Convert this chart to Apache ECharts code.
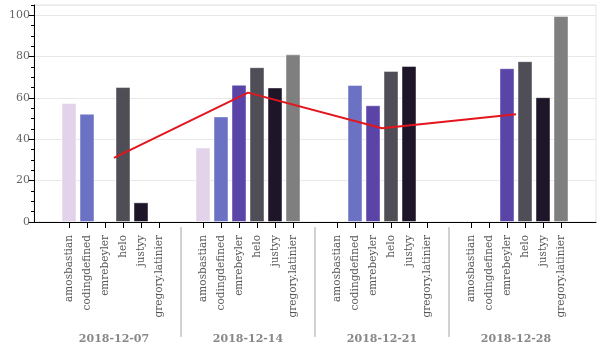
<!DOCTYPE html>
<html>
<head>
<meta charset="utf-8">
<script src="https://cdn.jsdelivr.net/npm/echarts@6/dist/echarts.min.js"></script>
<style>
  body { margin: 0; background: #fff; }
  #main { width: 600px; height: 350px; }
</style>
</head>
<body>
<div id="main"></div>
<script>
  // 周次
  var dates = ['2018-12-07', '2018-12-14', '2018-12-21', '2018-12-28'];
  var persons = ['amosbastian', 'codingdefined', 'emrebeyler', 'helo', 'justyy', 'gregory.latinier'];
  // 每人每周的分数 (没有的记 0)
  var amosbastian    = [57.5, 36, 0, 0];
  var codingdefined  = [52.3, 51, 66.2, 0];
  var emrebeyler     = [0, 66.3, 56.4, 74.3];
  var helo           = [65.2, 74.8, 73, 77.7];
  var justyy         = [9.5, 65, 75.4, 60.3];
  var gregoryLatinier = [0, 81, 0, 99.5];
  // 平均线
  var average = [31, 62.5, 45.3, 52.1];
  var yTicks = [0, 20, 40, 60, 80, 100];

  var values = [amosbastian, codingdefined, emrebeyler, helo, justyy, gregoryLatinier];
  var colors = ['#e3d3ea', '#6c72c3', '#5a44a8', '#4f4e57', '#1f1529', '#7f7f7f'];
  var font = 'DejaVu Serif';

  var chart = echarts.init(document.getElementById('main'));

  var series = persons.map(function (p, i) {
    return {
      type: 'bar',
      name: p,
      xAxisIndex: 1,
      yAxisIndex: 2,
      // 0 的柱子不画边框, 只留下面的名字
      data: values[i].map(function (v) {
        return v === 0 ? { value: 0, itemStyle: { color: 'transparent', borderWidth: 0 } } : v;
      }),
      barWidth: 15,
      barGap: '20%',
      itemStyle: { color: colors[i], borderColor: 'rgba(255,255,255,0.45)', borderWidth: 1 },
      label: {
        show: true,
        position: 'bottom',
        distance: 13,
        rotate: 90,
        align: 'right',
        verticalAlign: 'middle',
        formatter: '{a}',
        color: '#555',
        fontFamily: font,
        fontSize: 10.5
      }
    };
  });

  series.push({
    type: 'line',
    xAxisIndex: 1,
    yAxisIndex: 2,
    data: average,
    symbol: 'none',
    z: 5,
    lineStyle: { color: '#e3151d', width: 2 }
  });

  // 刻度 + 分隔线
  series.push({
    type: 'custom',
    xAxisIndex: 1,
    yAxisIndex: 2,
    silent: true,
    data: dates.map(function (d, i) { return [i, 0]; }),
    renderItem: function (params, api) {
      var idx = api.value(0);
      var p = api.coord([idx, 0]);
      var band = api.size([1, 0])[0];
      var children = persons.map(function (n, k) {
        var x = Math.round(p[0] + (k - 2.5) * 18) + 0.5;
        return {
          type: 'line',
          shape: { x1: x, y1: p[1], x2: x, y2: p[1] + 6 },
          style: { stroke: '#000', lineWidth: 1 }
        };
      });
      if (idx > 0) {
        var sx = Math.round(p[0] - band / 2);
        children.push({
          type: 'line',
          shape: { x1: sx, y1: p[1] + 5, x2: sx, y2: p[1] + 115 },
          style: { stroke: '#d2d2d2', lineWidth: 2 }
        });
      }
      return { type: 'group', children: children };
    }
  });

  chart.setOption({
    animation: false,
    grid: [
      { left: 34, right: 4, top: 5, bottom: 128, show: true, borderColor: '#e4e4e4', borderWidth: 1, outerBoundsMode: 'none' },
      { left: 47, right: 17, top: 15, bottom: 128, outerBoundsMode: 'none' }
    ],
    xAxis: [
      {
        gridIndex: 0, type: 'value', min: 0, max: 1,
        axisLine: { show: true, lineStyle: { color: '#000' } },
        axisTick: { show: false }, axisLabel: { show: false }, splitLine: { show: false }
      },
      {
        gridIndex: 1, type: 'category', data: dates,
        axisLine: { show: false }, axisTick: { show: false },
        axisLabel: { margin: 112, fontWeight: 'bold', color: '#888', fontFamily: font, fontSize: 11 }
      }
    ],
    yAxis: [
      {
        gridIndex: 0, type: 'value', position: 'left', min: 0, max: 105, interval: 20,
        axisLine: { show: true, lineStyle: { color: '#000' } },
        axisTick: { show: false }, axisLabel: { show: false },
        splitLine: { show: true, lineStyle: { color: '#e8e8e8' } }
      },
      {
        gridIndex: 0, type: 'value', position: 'left', min: 0, max: 105, interval: 5,
        axisLine: { show: false },
        axisTick: { show: true, length: 3, lineStyle: { color: '#000' } },
        axisLabel: { show: false }, splitLine: { show: false }
      },
      {
        gridIndex: 1, type: 'value', position: 'left', min: yTicks[0], max: yTicks[yTicks.length - 1], interval: 20, offset: 13,
        axisLine: { show: false },
        axisTick: { show: true, length: 6, lineStyle: { color: '#000' } },
        axisLabel: { color: '#666', fontFamily: font, fontSize: 11, margin: 4 },
        splitLine: { show: false }
      }
    ],
    series: series
  });
</script>
</body>
</html>
